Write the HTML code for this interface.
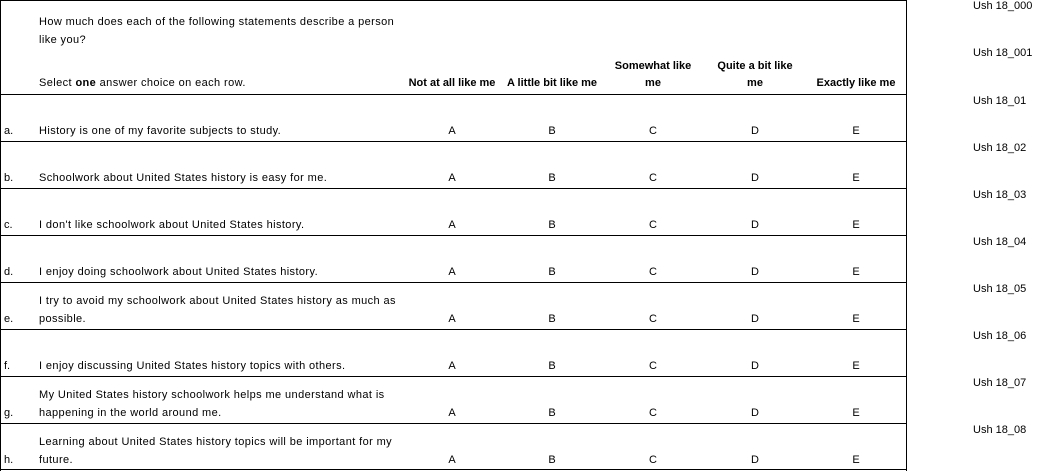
<!DOCTYPE html>
<html><head><meta charset="utf-8"><style>
body{margin:0;background:#fff;width:1061px;height:471px;overflow:hidden;position:relative;font-family:"Liberation Sans",sans-serif;font-size:11px;color:#000}
.t{position:absolute;white-space:nowrap;line-height:13px}
.w{letter-spacing:0.4px}
.h{position:absolute;left:0;width:907px;height:1px;background:#000}
.c{position:absolute;text-align:center;width:100px;line-height:17px}
.b{font-weight:bold}
</style></head><body>
<div class="h" style="top:0"></div>
<div style="position:absolute;left:0;top:0;width:1px;height:471px;background:#000"></div>
<div style="position:absolute;left:906px;top:0;width:1px;height:471px;background:#000"></div>
<div class="h" style="top:94px"></div><div class="h" style="top:141px"></div><div class="h" style="top:188px"></div><div class="h" style="top:235px"></div><div class="h" style="top:282px"></div><div class="h" style="top:329px"></div><div class="h" style="top:376px"></div><div class="h" style="top:423px"></div><div class="h" style="top:469px"></div>

<div class="t w" style="left:39px;top:13px;line-height:18px">How much does each of the following statements describe a person<br>like you?</div>
<div class="t w" style="left:39px;top:77px">Select <b>one</b> answer choice on each row.</div>
<div class="c b" style="left:402px;top:75px">Not at all like me</div>
<div class="c b" style="left:502px;top:75px">A little bit like me</div>
<div class="c b" style="left:603px;top:58px">Somewhat like<br>me</div>
<div class="c b" style="left:705px;top:58px">Quite a bit like<br>me</div>
<div class="c b" style="left:806px;top:75px">Exactly like me</div>

<div id="rows"></div>
<script>
var rows=[["a.",["History is one of my favorite subjects to study."]],["b.",["Schoolwork about United States history is easy for me."]],["c.",["I don't like schoolwork about United States history."]],["d.",["I enjoy doing schoolwork about United States history."]],["e.",["I try to avoid my schoolwork about United States history as much as","possible."]],["f.",["I enjoy discussing United States history topics with others."]],["g.",["My United States history schoolwork helps me understand what is","happening in the world around me."]],["h.",["Learning about United States history topics will be important for my","future."]]];
var h="";
rows.forEach(function(r,i){var y=94+47*i+31;
h+='<div class="t" style="left:4px;top:'+y+'px">'+r[0]+'</div>';
if(r[1].length==2){h+='<div class="t w" style="left:39px;top:'+(y-18)+'px">'+r[1][0]+'</div>';}
h+='<div class="t w" style="left:39px;top:'+y+'px">'+r[1][r[1].length-1]+'</div>';
[452,552,653,755,856].forEach(function(x,j){h+='<div class="t" style="left:'+(x-10)+'px;width:20px;text-align:center;top:'+y+'px">'+"ABCDE"[j]+'</div>';});
});
["Ush18_000","Ush18_001","Ush18_01","Ush18_02","Ush18_03","Ush18_04","Ush18_05","Ush18_06","Ush18_07","Ush18_08"].forEach(function(s,i){var y=[0,47,95,142,189,236,283,330,377,424][i];
h+='<div class="t" style="left:973px;top:'+y+'px">'+s.replace("Ush","Ush ")+'</div>';});
document.getElementById("rows").innerHTML=h;
</script>
</body></html>
